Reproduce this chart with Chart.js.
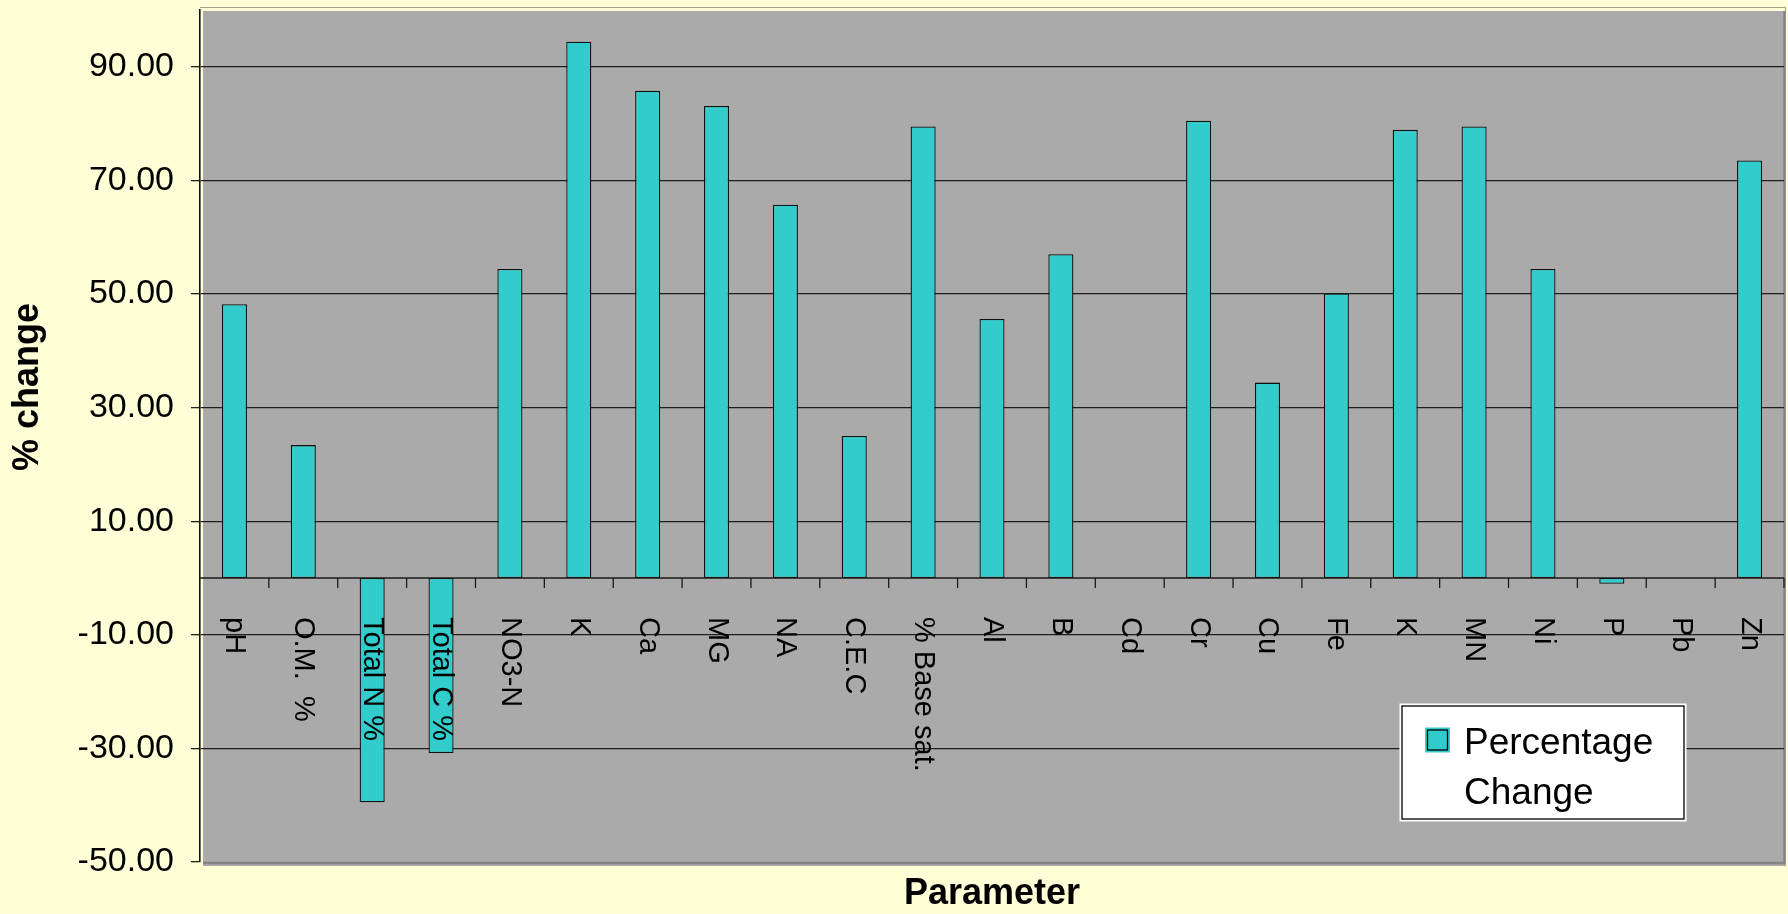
<!DOCTYPE html>
<html>
<head>
<meta charset="utf-8">
<style>
  html, body { margin: 0; padding: 0; background: #FFFFD7; }
  #wrap { width: 1788px; height: 914px; }
</style>
<script src="https://cdn.jsdelivr.net/npm/chart.js@4.4.1/dist/chart.umd.min.js"></script>
</head>
<body>
<div id="wrap"><canvas id="c" width="1788" height="914"></canvas></div>
<script>
// Soil parameters and their percentage change
const categories = [
  'pH', 'O.M.  %', 'Total N %', 'Total C %', 'NO3-N', 'K', 'Ca', 'MG', 'NA',
  'C.E.C', '% Base sat.', 'Al', 'B', 'Cd', 'Cr', 'Cu', 'Fe', 'K', 'MN', 'Ni',
  'P', 'Pb', 'Zn'
];
const percentChange = [
  48.2, 23.4, -39.5, -30.8, 54.4, 94.4, 85.8, 83.1, 65.7,
  25.0, 79.5, 45.6, 57.0, 0, 80.5, 34.4, 50.1, 78.9, 79.5, 54.4,
  -1.0, 0, 73.5
];
const yTickValues = [-50, -30, -10, 10, 30, 50, 70, 90];
const yMin = -50;
const yMax = 100;
const seriesName = 'Percentage Change';
const yTitle = '% change';
const xTitle = 'Parameter';

const FONT = "'Liberation Sans', Arial, Helvetica, sans-serif";
const BAR_FILL = '#33CCCC';
const PLOT_FILL = '#AAAAAA';
const PAGE_FILL = '#FFFFD7';

// Plot frame, zero axis, category labels, legend and vertical title
const chartDecor = {
  id: 'chartDecor',
  beforeDraw(chart) {
    const { ctx, chartArea: a, width, height } = chart;
    ctx.save();
    ctx.fillStyle = PAGE_FILL;
    ctx.fillRect(0, 0, width, height);
    ctx.fillStyle = PLOT_FILL;
    ctx.fillRect(a.left + 3, a.top + 1, (a.right + 2) - (a.left + 3), (a.bottom + 4) - (a.top + 1));
    // thin outer frame along the top and right
    ctx.strokeStyle = '#A4A48E';
    ctx.lineWidth = 1.2;
    ctx.beginPath();
    ctx.moveTo(a.left, a.top - 2.5);
    ctx.lineTo(a.right + 1.5, a.top - 2.5);
    ctx.lineTo(a.right + 1.5, a.top + 2);
    ctx.stroke();
    // darker edge on the right and bottom of the plot
    ctx.strokeStyle = '#858585';
    ctx.lineWidth = 2.5;
    ctx.beginPath();
    ctx.moveTo(a.right + 0.5, a.top + 1);
    ctx.lineTo(a.right + 0.5, a.bottom + 1);
    ctx.lineTo(a.left + 3, a.bottom + 1);
    ctx.stroke();
    ctx.restore();
  },
  afterDatasetsDraw(chart) {
    const { ctx, chartArea: a, scales: { x, y } } = chart;
    const y0 = y.getPixelForValue(0);
    const n = categories.length;
    ctx.save();

    // category axis at zero with tick marks between categories
    ctx.strokeStyle = '#1A1A1A';
    ctx.lineWidth = 1.5;
    ctx.beginPath();
    ctx.moveTo(a.left, y0);
    ctx.lineTo(a.right, y0);
    ctx.stroke();
    ctx.lineWidth = 1.3;
    ctx.beginPath();
    for (let i = 1; i <= n; i++) {
      const bx = i < n ? (x.getPixelForValue(i - 1) + x.getPixelForValue(i)) / 2 : a.right;
      ctx.moveTo(bx, y0);
      ctx.lineTo(bx, y0 + 10);
    }
    ctx.stroke();

    // vertical category labels, reading downwards
    ctx.fillStyle = '#000';
    ctx.font = `29px ${FONT}`;
    ctx.textAlign = 'left';
    ctx.textBaseline = 'middle';
    categories.forEach((label, i) => {
      ctx.save();
      ctx.translate(x.getPixelForValue(i), y0 + 39);
      ctx.rotate(Math.PI / 2);
      ctx.fillText(label, 0, 0);
      ctx.restore();
    });

    // legend box
    const lx = 1402, ly = 706, lw = 282, lh = 113;
    ctx.fillStyle = '#FFFFFF';
    ctx.fillRect(lx - 2.5, ly - 2.5, lw + 5, lh + 5);
    ctx.strokeStyle = '#000';
    ctx.lineWidth = 1.3;
    ctx.strokeRect(lx, ly, lw, lh);
    ctx.fillStyle = BAR_FILL;
    ctx.fillRect(lx + 23, ly + 21.5, 25, 25);
    ctx.strokeRect(lx + 25.5, ly + 24, 20, 20);
    ctx.fillStyle = '#000';
    ctx.font = `37px ${FONT}`;
    ctx.textBaseline = 'alphabetic';
    const words = seriesName.split(' ');
    words.forEach((w, i) => ctx.fillText(w, lx + 62, ly + 47.5 + i * 50));

    // value axis title
    ctx.font = `bold 36px ${FONT}`;
    ctx.textAlign = 'center';
    ctx.textBaseline = 'middle';
    ctx.translate(28, 387);
    ctx.rotate(-Math.PI / 2);
    ctx.fillText(yTitle, 0, 0);
    ctx.restore();
  }
};

new Chart(document.getElementById('c'), {
  type: 'bar',
  data: {
    labels: categories,
    datasets: [{
      label: seriesName,
      data: percentChange,
      backgroundColor: BAR_FILL,
      borderColor: '#101010',
      borderWidth: 1.3,
      borderSkipped: false,
      barPercentage: 0.364,
      categoryPercentage: 1.0
    }]
  },
  options: {
    responsive: false,
    animation: false,
    devicePixelRatio: 1,
    layout: { padding: { top: 10, right: 4, left: 0, bottom: 0 } },
    plugins: {
      legend: { display: false },
      tooltip: { enabled: false }
    },
    scales: {
      x: {
        type: 'category',
        grid: { display: false },
        border: { display: false },
        ticks: { display: false },
        title: {
          display: true,
          text: xTitle,
          color: '#000',
          font: { family: FONT, size: 36, weight: 'bold', lineHeight: 1.1 },
          padding: { top: 0, bottom: 0 }
        },
        afterFit(scale) {
          scale.height = 52;
          scale.paddingLeft = 0;
          scale.paddingRight = 0;
        }
      },
      y: {
        min: yMin,
        max: yMax,
        afterBuildTicks(scale) {
          scale.ticks = yTickValues.map(v => ({ value: v }));
        },
        ticks: {
          color: '#000',
          padding: 17,
          font: { family: FONT, size: 34 },
          callback: v => Number(v).toFixed(2)
        },
        grid: {
          color: ctx => (ctx.tick && ctx.tick.value === yMin) ? 'rgba(0,0,0,0)' : '#1E1E1E',
          tickColor: '#1E1E1E',
          lineWidth: 1.3,
          tickLength: 9
        },
        border: { display: true, color: '#111', width: 1.6 },
        afterFit(scale) {
          scale.width = 200;
          scale.paddingTop = 0;
          scale.paddingBottom = 0;
        }
      }
    }
  },
  plugins: [chartDecor]
});
</script>
</body>
</html>
